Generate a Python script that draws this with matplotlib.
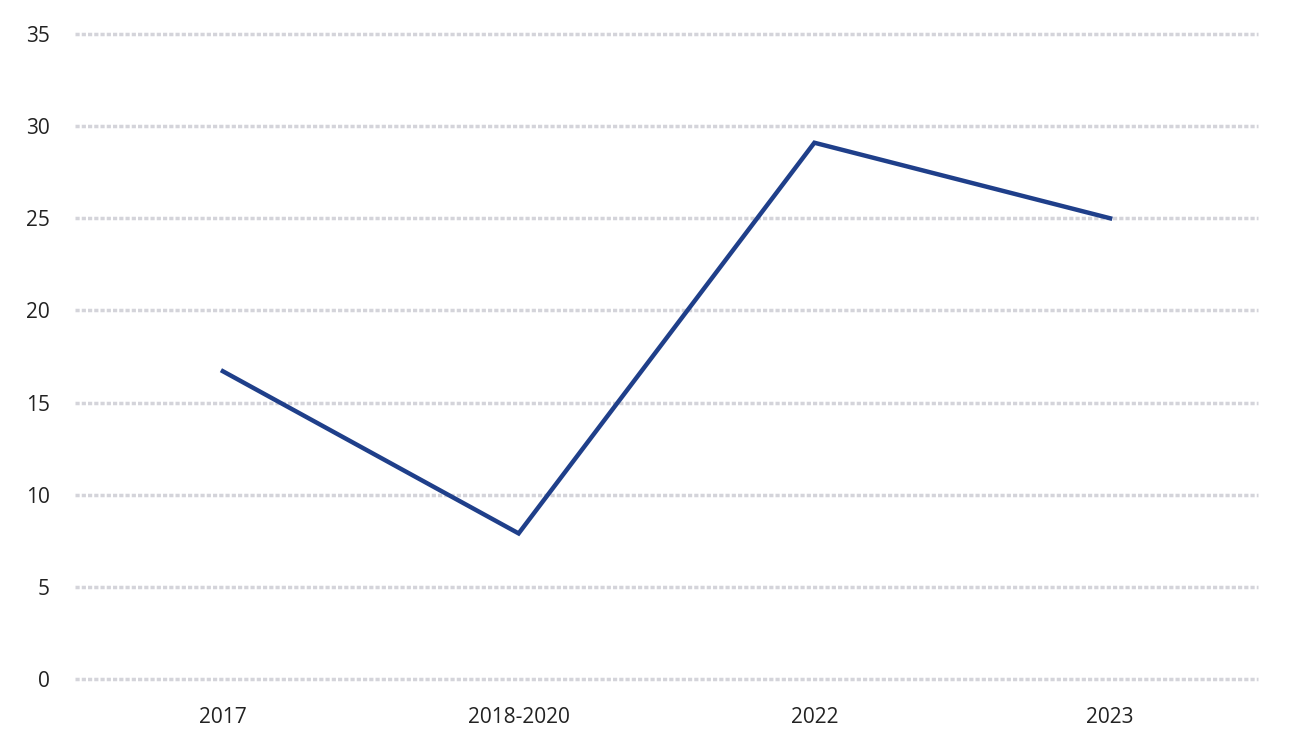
import matplotlib
matplotlib.use("Agg")
import matplotlib.pyplot as plt

# data
categories = ["2017", "2018-2020", "2022", "2023"]
values = [16.7, 7.9, 29.1, 25.0]
yticks = [0, 5, 10, 15, 20, 25, 30, 35]

plt.rcParams['font.family'] = ['Open Sans', 'DejaVu Sans']

fig = plt.figure(figsize=(12.91, 7.41), dpi=100)
ax = fig.add_axes([75 / 1291, 1 - 679 / 741, (1258 - 75) / 1291, (679 - 34) / 741])

x = list(range(len(categories)))
ax.plot(x, values, color="#1f3f8a", linewidth=3.2, solid_joinstyle="miter", zorder=3)

ax.set_xlim(-0.5, len(categories) - 0.5)
ax.set_ylim(0, 35)
ax.set_yticks(yticks)
ax.set_xticks(x)
ax.set_xticklabels(categories)

# dotted grey gridlines
for y in yticks:
    ax.axhline(y, color="#d4d4da", linewidth=2.5, linestyle=(0, (1.2, 0.6)), zorder=1, clip_on=False)

for s in ax.spines.values():
    s.set_visible(False)
ax.tick_params(length=0, labelsize=15, colors="#222222")
ax.tick_params(axis="y", pad=18)
ax.tick_params(axis="x", pad=20)

fig.savefig("out.png", dpi=100, facecolor="white")
